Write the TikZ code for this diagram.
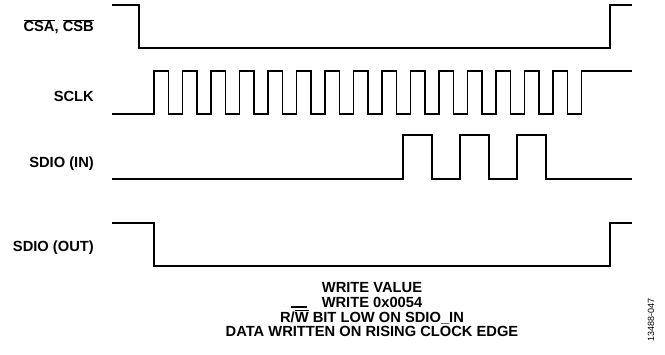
\documentclass[tikz,border=0pt]{standalone}
\usepackage{fontspec}
\setmainfont{Liberation Sans}
\begin{document}
\begin{tikzpicture}[x=1pt,y=-1pt,
    wave/.style={line width=1.8pt},
    lbl/.style={font=\fontsize{14.7}{14.6}\selectfont\bfseries, inner sep=0pt, anchor=base east}]
    \useasboundingbox (0,0) rectangle (665,354);

    % Signal names
    \node[lbl] (cs) at (94,31.5) {$\overline{\hbox{CSA}}$, $\overline{\hbox{CSB}}$};
    \node[lbl] (sclk) at (94,101.7) {SCLK};
    \node[lbl] (sdioin) at (94,167) {SDIO (IN)};
    \node[lbl] (sdioout) at (94,251) {SDIO (OUT)};

    % Chip select
    \draw[wave] (112,5) -- (139,5) -- (139,48) -- (610,48) -- (610,5) -- (632,5);

    % Clock, 16 rising edges
    \draw[wave] (112,114)
        \foreach \k in {0,...,14} {
            -- ({154+28.5*\k},114) -- ({154+28.5*\k},71)
            -- ({168.4+28.5*\k},71) -- ({168.4+28.5*\k},114) }
        -- (581.5,114) -- (581.5,71) -- (632,71);

    % Data in
    \draw[wave] (112,179)
        \foreach \r in {403,460,517} {
            -- (\r,179) -- (\r,135) -- ({\r+29},135) -- ({\r+29},179) }
        -- (632,179);

    % Data out
    \draw[wave] (112,223) -- (154,223) -- (154,266) -- (610,266) -- (610,223) -- (632,223);

    % Notes
    \node[font=\fontsize{14.7}{14.6}\selectfont\bfseries, align=center, inner sep=0pt, anchor=north]
        (note) at (372,282.5) {WRITE VALUE\\WRITE 0x0054\\R/$\overline{\hbox{W}}$ BIT LOW ON SDIO\_IN\\DATA WRITTEN ON RISING CLOCK EDGE};
    \draw[line width=1.2pt] (291,307) -- (307,307);

    % Figure number
    \node[font=\fontsize{9}{10}\selectfont, rotate=90, inner sep=0pt] (figid) at (651,320) {13488-047};
\end{tikzpicture}
\end{document}
